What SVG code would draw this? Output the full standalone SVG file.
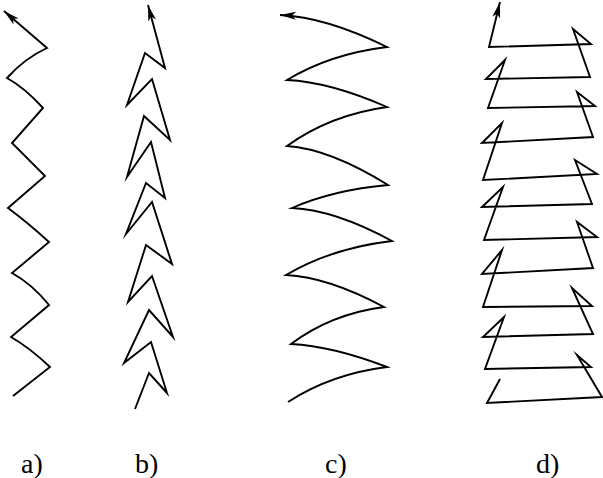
<svg xmlns="http://www.w3.org/2000/svg" width="603" height="478" viewBox="0 0 603 478">
<defs>
<style>
.ln{fill:none;stroke:#000;stroke-width:1.9;stroke-linejoin:miter;stroke-miterlimit:10}
.lb{font-family:"Liberation Serif","Times New Roman",serif;font-size:28px;fill:#000}
</style>
<marker id="ah" viewBox="-17 -5 18 10" refX="0" refY="0" markerWidth="18" markerHeight="10" markerUnits="userSpaceOnUse" orient="auto">
<path d="M0,0 L-16,-4 L-12,0 L-16,4 Z" fill="#000"/>
</marker>
</defs>
<rect width="603" height="478" fill="#fff"/>
<g id="connectors">
<g id="fig-a">
<path class="ln" marker-end="url(#ah)" d="M13,396 L50,367 Q30,348 11,337 L49,305 Q32,284 12,273 L49,242 Q27,222 8,208 L45,176 L12,143 L43,108 Q25,88 7,78 Q25,58 47,48 L4,11"/>
</g>
<g id="fig-b">
<path class="ln" marker-end="url(#ah)" d="M135,409 L149,373 L167,393 L151,342 L124,363 L149,310 L173,337 L152,276 L128,302 L146,245 L172,264 L152,202 L126,234 L146,183 L165,198 L151,142 L127,177 L144,116 L170,140 L152,79 L127,105 L145,53 L165,68 L148,5"/>
</g>
<g id="fig-c">
<path class="ln" marker-end="url(#ah)" d="M288,402 Q331,374 387,367 Q332,346 291,344 Q331,314 384,307 Q328,277 286,275 Q332,248 392,241 Q335,210 292,208 Q333,190 388,185 Q330,149 287,146 Q330,115 387,107 Q330,82 287,80 Q330,54 387,47 Q326,17 280,15"/>
</g>
<g id="fig-d">
<path class="ln" marker-end="url(#ah)" d="M500,379 L487,403 L602,397 L577,355 L591,367 L485,369 L504,317 L483,337 L593,334 L572,288 L592,306 L483,307 L502,250 L482,274 L593,268 L577,222 L597,237 L484,240 L503,187 L482,207 L592,204 L575,160 L597,174 L483,180 L502,123 L482,143 L593,137 L577,92 L595,106 L488,108 L505,60 L486,79 L590,77 L573,29 L591,44 L489,47 L500,2"/>
</g>
</g>
<g id="labels">
<text class="lb" x="21" y="473">a)</text>
<text class="lb" x="135" y="473">b)</text>
<text class="lb" x="325" y="473">c)</text>
<text class="lb" x="536" y="473">d)</text>
</g>
</svg>
